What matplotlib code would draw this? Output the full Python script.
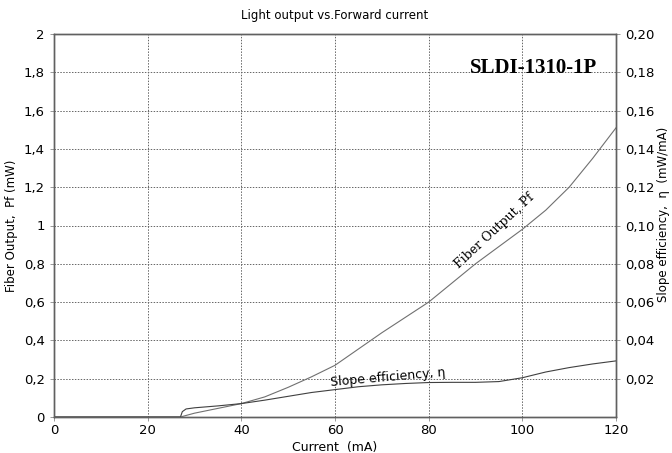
import matplotlib
matplotlib.use("Agg")
import matplotlib.pyplot as plt
from matplotlib.ticker import FixedLocator, FuncFormatter

# Data
current_pf = [0, 27, 30, 35, 40, 45, 50, 55, 60, 65, 70, 75, 80, 85, 90, 95, 100, 105, 110, 115, 120]
fiber_output = [0, 0, 0.02, 0.045, 0.07, 0.105, 0.155, 0.21, 0.27, 0.355, 0.44, 0.52, 0.60, 0.70, 0.80, 0.89, 0.98, 1.08, 1.20, 1.35, 1.51]

current_eta = [0, 27, 27.4, 28.2, 30, 35, 40, 45, 50, 55, 60, 65, 70, 75, 80, 85, 90, 95, 100, 105, 110, 115, 120]
slope_eff = [0, 0, 0.0028, 0.0042, 0.0048, 0.0058, 0.0070, 0.0088, 0.0108, 0.0128, 0.0143, 0.0158, 0.0168, 0.0175, 0.0180, 0.0181, 0.0181, 0.0185, 0.0205, 0.0235, 0.0258, 0.0277, 0.0293]

x_ticks = [0, 20, 40, 60, 80, 100, 120]
left_ticks = [0, 0.2, 0.4, 0.6, 0.8, 1.0, 1.2, 1.4, 1.6, 1.8, 2.0]
right_ticks = [0.02, 0.04, 0.06, 0.08, 0.10, 0.12, 0.14, 0.16, 0.18, 0.20]

fig = plt.figure(figsize=(6.72, 4.53), dpi=100)
ax = fig.add_axes([54/672, 36/453, (616-54)/672, (417-34)/453])
ax2 = ax.twinx()

ax.set_xlim(0, 120)
ax.set_ylim(0, 2)
ax2.set_ylim(0, 0.2)

ax.plot(current_pf, fiber_output, color="#707070", lw=0.8)
ax2.plot(current_eta, slope_eff, color="#404040", lw=0.8)

ax.xaxis.set_major_locator(FixedLocator(x_ticks))
ax.yaxis.set_major_locator(FixedLocator(left_ticks))
ax2.yaxis.set_major_locator(FixedLocator(right_ticks))

def comma_left(v, pos):
    if abs(v - round(v)) < 1e-9:
        return str(int(round(v)))
    return ("%.1f" % v).replace(".", ",")

def comma_right(v, pos):
    return ("%.2f" % v).replace(".", ",")

ax.yaxis.set_major_formatter(FuncFormatter(comma_left))
ax2.yaxis.set_major_formatter(FuncFormatter(comma_right))

ax.grid(True, linestyle=(0, (1.5, 1.5)), color="#666666", lw=0.7)
ax.tick_params(axis="both", labelsize=9.5, length=3, color="#888888", width=0.6)
ax2.tick_params(axis="y", labelsize=9.5, length=3, color="#888888", width=0.6)
ax.tick_params(axis="x", pad=2)
for a in (ax, ax2):
    for s in a.spines.values():
        s.set_color("#606060")
        s.set_linewidth(1.0)

ax.set_xlabel("Current  (mA)", fontsize=9, labelpad=3)
ax.set_ylabel("Fiber Output,  Pf (mW)", fontsize=8.5)
ax2.set_ylabel("Slope efficiency,  \u03b7  (mW/mA)", fontsize=8.5)
ax.yaxis.set_label_coords(-0.064, 0.5)
ax2.yaxis.set_label_coords(1.073, 0.53)
ax.set_title("Light output vs.Forward current", fontsize=8.5, pad=11)

ax.text(94, 0.97, "Fiber Output, Pf", rotation=43, fontsize=9, family="DejaVu Serif",
        ha="center", va="center", rotation_mode="anchor")
ax.text(71.3, 0.205, "Slope efficiency, \u03b7", rotation=5, fontsize=9,
        ha="center", va="center", rotation_mode="anchor")
ax.text(116, 1.82, "SLDI-1310-1P", fontsize=15, fontweight="bold", family="Liberation Serif",
        ha="right", va="center")

fig.savefig("out.png", dpi=100)
